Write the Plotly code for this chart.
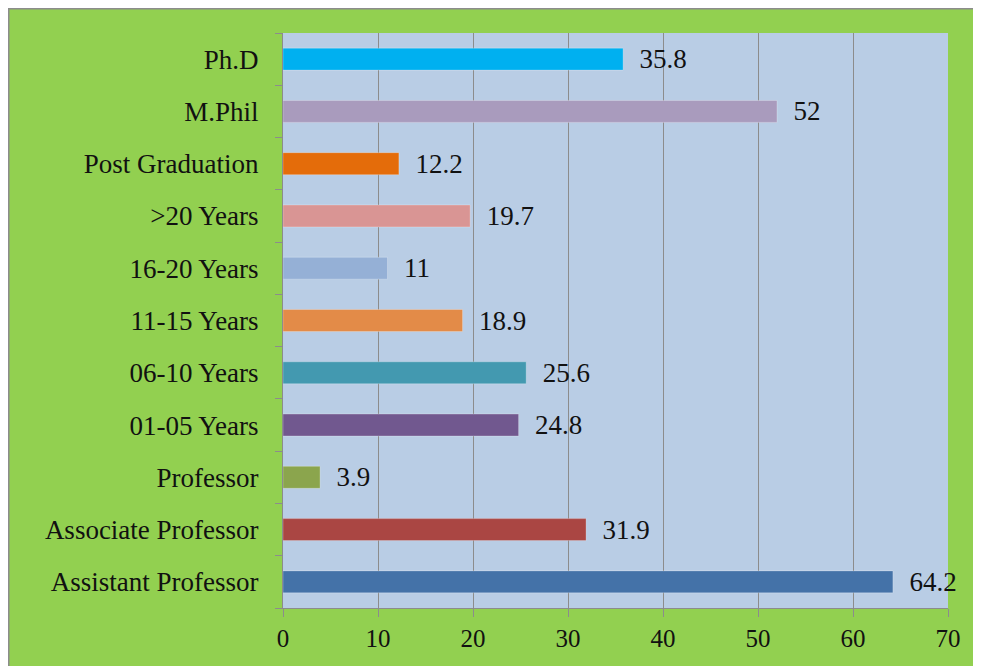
import plotly.graph_objects as go

categories = ["Assistant Professor", "Associate Professor", "Professor", "01-05 Years",
              "06-10 Years", "11-15 Years", "16-20 Years", ">20 Years",
              "Post Graduation", "M.Phil", "Ph.D"]
values = [64.2, 31.9, 3.9, 24.8, 25.6, 18.9, 11, 19.7, 12.2, 52, 35.8]
colors = ["#4472A8", "#AA4643", "#8BA54D", "#71588F", "#4399B0", "#E38B48",
          "#95B0D6", "#D99594", "#E46C0A", "#A99BBD", "#00B0F0"]
x_ticks = [0, 10, 20, 30, 40, 50, 60, 70]

# page has an 8px body margin, so the figure is a bit smaller than the window
W, H = 973, 658
L, R, T, B = 275, 33, 25, 58
pw, ph = W - L - R, H - T - B

FONT = "Liberation Serif, Times New Roman, serif"
GRAY = "#8C8C8C"
FS = 27

fig = go.Figure(go.Bar(
    y=categories, x=values, orientation="h",
    marker=dict(color=colors, line=dict(color="rgba(255,255,255,0.25)", width=1)),
    texttemplate="\u00a0\u00a0%{x}", textposition="outside",
    textfont=dict(family=FONT, size=FS, color="#111111"),
    cliponaxis=False, constraintext="none", hoverinfo="skip",
))

def px_x(p):
    return (p - L) / pw

def px_y(p):
    return 1 - (p - T) / ph

shapes = [
    dict(type="line", xref="paper", yref="paper", x0=px_x(0.5), x1=px_x(0.5), y0=px_y(H + 5), y1=px_y(0),
         line=dict(color=GRAY, width=2)),
    dict(type="line", xref="paper", yref="paper", x0=px_x(0), x1=px_x(W + 5), y0=px_y(0.5), y1=px_y(0.5),
         line=dict(color=GRAY, width=2)),
]

fig.update_layout(
    width=W, height=H,
    margin=dict(l=L, r=R, t=T, b=B),
    paper_bgcolor="#92D050",
    plot_bgcolor="#B9CDE5",
    bargap=0.58,
    showlegend=False,
    shapes=shapes,
    font=dict(family=FONT, size=FS, color="#111111"),
    xaxis=dict(range=[0, 70], tickvals=x_ticks, showgrid=True, gridcolor=GRAY, gridwidth=1,
               zeroline=False, showline=True, linecolor=GRAY, linewidth=1,
               ticks="outside", ticklen=8, tickcolor=GRAY,
               tickfont=dict(family=FONT, size=25, color="#111111"), fixedrange=True),
    yaxis=dict(categoryorder="array", categoryarray=categories, showgrid=False, zeroline=False,
               showline=True, linecolor=GRAY, linewidth=1,
               ticks="outside", ticklen=7, tickcolor=GRAY, tickson="boundaries",
               ticklabelstandoff=18,
               tickfont=dict(family=FONT, size=FS, color="#111111"), fixedrange=True),
)

fig.write_html("out.html")
